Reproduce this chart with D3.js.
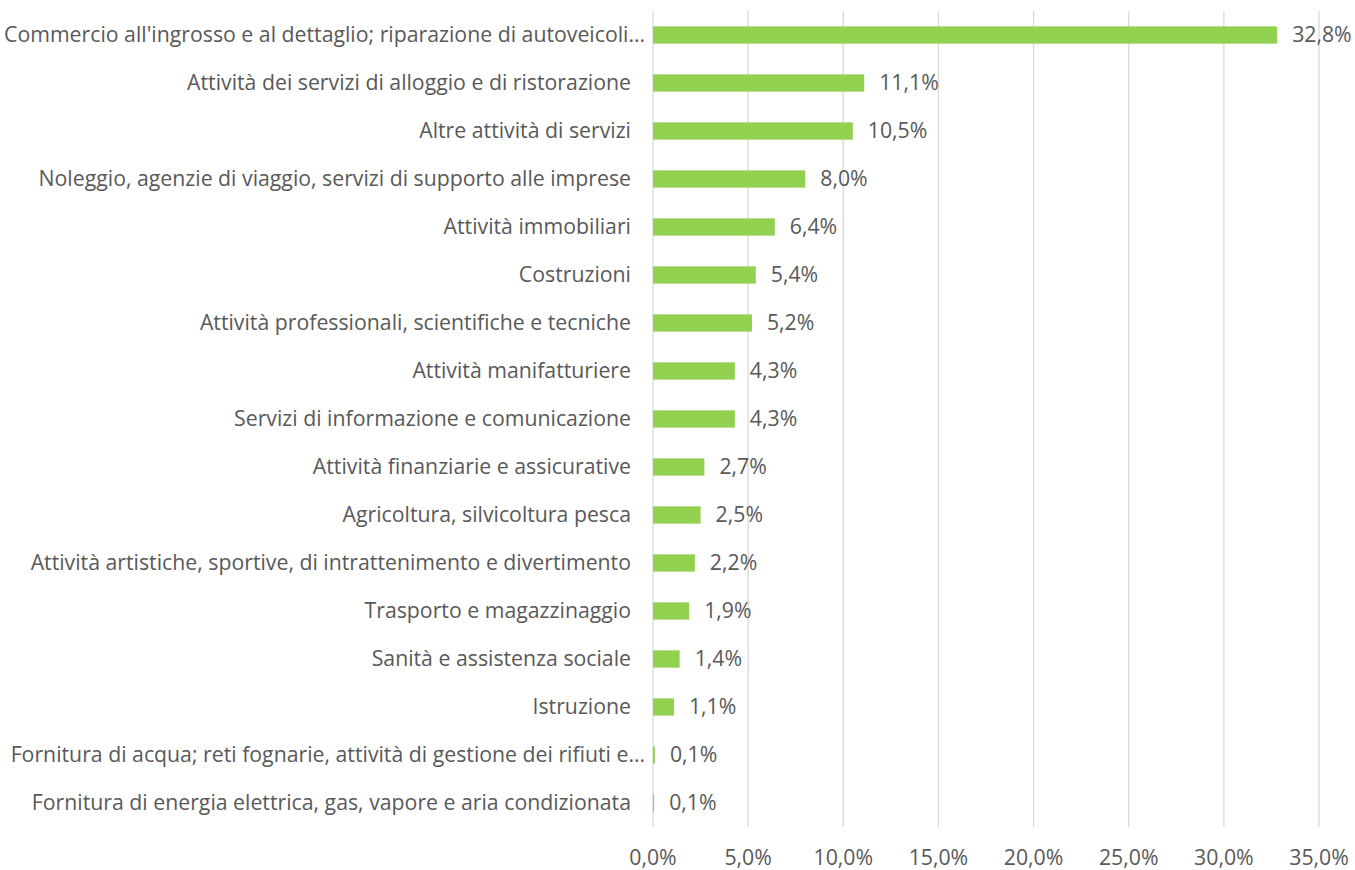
<!DOCTYPE html>
<html>
<head>
<meta charset="utf-8">
<script src="https://cdn.jsdelivr.net/npm/d3@7"></script>
<style>
  body { margin: 0; background: #fff; }
  text { font-family: "Open Sans", Lato, sans-serif; fill: #595959; }
</style>
</head>
<body>
<div class="canvas"></div>
<script>
const categories = [
    "Commercio all'ingrosso e al dettaglio; riparazione di autoveicoli…",
    'Attività dei servizi di alloggio e di ristorazione',
    'Altre attività di servizi',
    'Noleggio, agenzie di viaggio, servizi di supporto alle imprese',
    'Attività immobiliari',
    'Costruzioni',
    'Attività professionali, scientifiche e tecniche',
    'Attività manifatturiere',
    'Servizi di informazione e comunicazione',
    'Attività finanziarie e assicurative',
    'Agricoltura, silvicoltura pesca',
    'Attività artistiche, sportive, di intrattenimento e divertimento',
    'Trasporto e magazzinaggio',
    'Sanità e assistenza sociale',
    'Istruzione',
    'Fornitura di acqua; reti fognarie, attività di gestione dei rifiuti e…',
    'Fornitura di energia elettrica, gas, vapore e aria condizionata'
]

const values = [32.8, 11.1, 10.5, 8.0, 6.4, 5.4, 5.2, 4.3, 4.3, 2.7, 2.5, 2.2, 1.9, 1.4, 1.1, 0.1, 0.06]

const ticks = [0, 5, 10, 15, 20, 25, 30, 35]

const dims = {
    width: 1355,
    height: 870,
    left: 653,
    right: 1319,
    top: 11,
    bottom: 827
}

const fmt = v => d3.format('.1f')(v).replace('.', ',') + '%'

const svg = d3.select('.canvas')
    .append('svg')
    .attr('width', dims.width)
    .attr('height', dims.height)

// pick a font size so the widest label spans like the original (~601px)
const probe = svg.append('text')
    .attr('font-size', 20)
    .text(categories[11])
const fontSize = 20 * 601 / probe.node().getComputedTextLength()
probe.remove()

const x = d3.scaleLinear()
    .domain([0, 35])
    .range([dims.left, dims.right])

const y = d3.scaleBand()
    .domain(categories)
    .range([dims.top, dims.bottom])
    .paddingInner(0.64)
    .paddingOuter(0.32)

// gridlines
svg.append('g')
    .selectAll('line')
    .data(ticks)
    .enter()
    .append('line')
    .attr('x1', d => x(d))
    .attr('x2', d => x(d))
    .attr('y1', dims.top)
    .attr('y2', dims.bottom)
    .attr('stroke', '#d9d9d9')
    .attr('stroke-width', 1.3)

// tick labels
svg.append('g')
    .selectAll('text')
    .data(ticks)
    .enter()
    .append('text')
    .attr('x', d => x(d))
    .attr('y', 858)
    .attr('dy', '0.35em')
    .attr('text-anchor', 'middle')
    .attr('font-size', fontSize)
    .text(d => fmt(d))

const rows = categories.map((c, i) => ({ name: c, value: values[i] }))

// bars
svg.append('g')
    .selectAll('rect')
    .data(rows)
    .enter()
    .append('rect')
    .attr('x', x(0))
    .attr('y', d => y(d.name))
    .attr('width', d => x(d.value) - x(0))
    .attr('height', y.bandwidth())
    .attr('fill', '#92d050')

// category labels
svg.append('g')
    .selectAll('text')
    .data(rows)
    .enter()
    .append('text')
    .attr('x', d => d.name.endsWith('…') ? 645 : 631)
    .attr('y', d => y(d.name) + y.bandwidth() / 2)
    .attr('dy', '0.35em')
    .attr('text-anchor', 'end')
    .attr('font-size', fontSize)
    .text(d => d.name)

// value labels
svg.append('g')
    .selectAll('text')
    .data(rows)
    .enter()
    .append('text')
    .attr('x', d => x(d.value) + 15)
    .attr('y', d => y(d.name) + y.bandwidth() / 2)
    .attr('dy', '0.35em')
    .attr('font-size', fontSize)
    .text(d => fmt(d.value))
</script>
</body>
</html>
